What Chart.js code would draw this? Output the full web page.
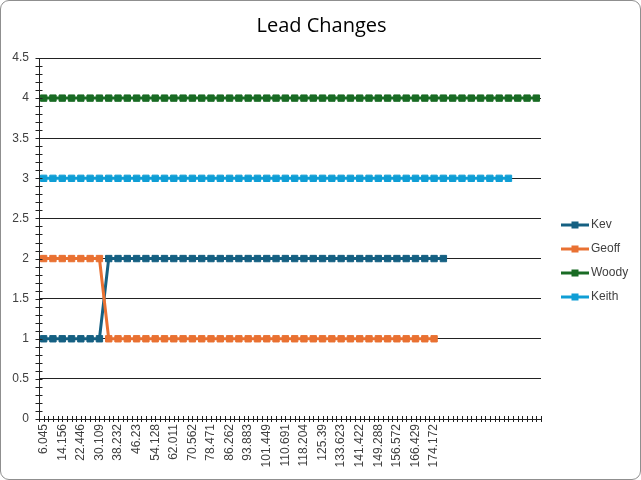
<!DOCTYPE html>
<html>
<head>
<meta charset="utf-8">
<script src="https://cdn.jsdelivr.net/npm/chart.js@4"></script>
<style>
  body { margin: 0; background: #fff; }
  #wrap { position: relative; width: 641px; height: 480px; box-sizing: border-box;
          border: 1px solid #8f8f8f; border-radius: 9px; }
  #chart { position: absolute; left: 0; top: 0; }
</style>
</head>
<body>
<div id="wrap"><canvas id="chart" width="641" height="480"></canvas></div>
<script>
// category labels (only every other one is printed on the axis)
const categories = [
  '6.045', '', '14.156', '', '22.446', '', '30.109', '', '38.232', '',
  '46.23', '', '54.128', '', '62.011', '', '70.562', '', '78.471', '',
  '86.262', '', '93.883', '', '101.449', '', '110.691', '', '118.204', '',
  '125.39', '', '133.623', '', '141.422', '', '149.288', '', '156.572', '',
  '166.429', '', '174.172', '', '', '', '', '', '', '',
  '', '', '', ''
];

const kev = [
  1, 1, 1, 1, 1, 1, 1, 2, 2, 2,
  2, 2, 2, 2, 2, 2, 2, 2, 2, 2,
  2, 2, 2, 2, 2, 2, 2, 2, 2, 2,
  2, 2, 2, 2, 2, 2, 2, 2, 2, 2,
  2, 2, 2, 2
];
const geoff = [
  2, 2, 2, 2, 2, 2, 2, 1, 1, 1,
  1, 1, 1, 1, 1, 1, 1, 1, 1, 1,
  1, 1, 1, 1, 1, 1, 1, 1, 1, 1,
  1, 1, 1, 1, 1, 1, 1, 1, 1, 1,
  1, 1, 1
];
const woody = [
  4, 4, 4, 4, 4, 4, 4, 4, 4, 4,
  4, 4, 4, 4, 4, 4, 4, 4, 4, 4,
  4, 4, 4, 4, 4, 4, 4, 4, 4, 4,
  4, 4, 4, 4, 4, 4, 4, 4, 4, 4,
  4, 4, 4, 4, 4, 4, 4, 4, 4, 4,
  4, 4, 4, 4
];
const keith = [
  3, 3, 3, 3, 3, 3, 3, 3, 3, 3,
  3, 3, 3, 3, 3, 3, 3, 3, 3, 3,
  3, 3, 3, 3, 3, 3, 3, 3, 3, 3,
  3, 3, 3, 3, 3, 3, 3, 3, 3, 3,
  3, 3, 3, 3, 3, 3, 3, 3, 3, 3,
  3
];

const seriesNames = ['Kev', 'Geoff', 'Woody', 'Keith'];
const seriesColors = ['#156082', '#E97132', '#196B24', '#0F9ED5'];

const labelFont = { family: '"Liberation Sans", Arial, sans-serif', size: 12 };

function makeSet(i, values) {
  return {
    label: seriesNames[i],
    data: values,
    borderColor: seriesColors[i],
    backgroundColor: seriesColors[i],
    borderWidth: 3,
    pointStyle: 'rect',
    pointRadius: 4.5,
    pointBorderWidth: 1,
    pointBackgroundColor: seriesColors[i],
    pointBorderColor: seriesColors[i],
    tension: 0,
    order: 4 - i
  };
}

// title, legend and the crossing tick marks
const decor = {
  id: 'decor',
  afterDraw(chart) {
    const ctx = chart.ctx;
    const xs = chart.scales.x, ys = chart.scales.y;
    const area = chart.chartArea;
    ctx.save();

    ctx.strokeStyle = '#222';
    ctx.lineWidth = 1;
    ctx.beginPath();
    for (let i = 0; i <= 45; i++) {
      const y = Math.round(ys.getPixelForValue(i / 10)) + 0.5;
      ctx.moveTo(area.left - 3.5, y);
      ctx.lineTo(area.left + 3.5, y);
    }
    const n = chart.data.labels.length;
    for (let i = 0; i <= n * 2; i++) {
      const x = Math.round(xs.getPixelForValue(i / 2 - 0.5)) + 0.5;
      ctx.moveTo(x, area.bottom - 3);
      ctx.lineTo(x, area.bottom + 3);
    }
    ctx.stroke();

    ctx.fillStyle = '#000';
    ctx.font = '20px "Open Sans", sans-serif';
    ctx.textAlign = 'center';
    ctx.textBaseline = 'middle';
    ctx.fillText('Lead Changes', 320.5, 25);

    ctx.font = '12px "Liberation Sans", Arial, sans-serif';
    ctx.textAlign = 'left';
    chart.data.datasets.forEach(function (ds, i) {
      const y = 224 + i * 24;
      ctx.strokeStyle = ds.borderColor;
      ctx.lineWidth = 3;
      ctx.beginPath();
      ctx.moveTo(560, y);
      ctx.lineTo(588, y);
      ctx.stroke();
      ctx.fillStyle = ds.borderColor;
      ctx.fillRect(570.5, y - 3.5, 7, 7);
      ctx.fillStyle = '#404040';
      ctx.fillText(ds.label, 590, y);
    });
    ctx.restore();
  }
};

new Chart(document.getElementById('chart'), {
  type: 'line',
  data: {
    labels: categories,
    datasets: [makeSet(0, kev), makeSet(1, geoff), makeSet(2, woody), makeSet(3, keith)]
  },
  options: {
    responsive: false,
    animation: false,
    layout: { padding: { top: 57, right: 101, bottom: 0, left: 0 } },
    plugins: {
      legend: { display: false },
      title: { display: false },
      tooltip: { enabled: false }
    },
    scales: {
      x: {
        type: 'category',
        offset: true,
        grid: { display: false, drawTicks: false },
        border: { display: true, color: '#222', width: 1 },
        ticks: {
          autoSkip: false,
          maxRotation: 90,
          minRotation: 90,
          padding: 5,
          color: '#404040',
          font: labelFont
        },
        afterFit: function (scale) { scale.height = 62; }
      },
      y: {
        min: 0,
        max: 4.5,
        grid: { color: '#222', lineWidth: 1, drawTicks: false },
        border: { display: true, color: '#222', width: 1 },
        ticks: {
          stepSize: 0.5,
          padding: 10,
          color: '#404040',
          font: labelFont,
          callback: function (value) { return String(+value.toFixed(1)); }
        },
        afterFit: function (scale) { scale.width = 38; }
      }
    }
  },
  plugins: [decor]
});
</script>
</body>
</html>
